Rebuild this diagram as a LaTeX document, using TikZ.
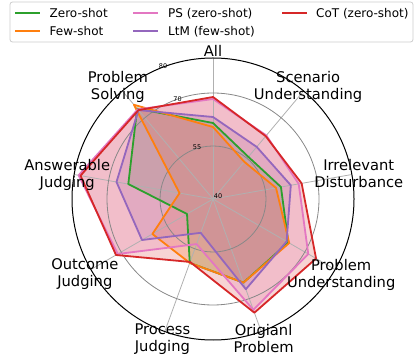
\documentclass[tikz,border=0pt]{standalone}
\usepackage{fontspec}
\setmainfont{DejaVu Sans}
\definecolor{cgreen}{HTML}{2CA02C}
\definecolor{corange}{HTML}{FF7F0E}
\definecolor{cpink}{HTML}{E377C2}
\definecolor{cpurple}{HTML}{9467BD}
\definecolor{cred}{HTML}{D62728}
\definecolor{spokegray}{HTML}{B0B0B0}
\definecolor{ringgray}{HTML}{888888}
\definecolor{legedge}{HTML}{CCCCCC}
\begin{document}
\begin{tikzpicture}[x=1pt,y=1pt,
  series/.style={line width=1.8pt, line join=round},
  area/.style={fill opacity=0.2},
  axlabel/.style={font=\fontsize{14.7}{17}\selectfont, align=center, inner sep=0pt},
  ticklabel/.style={font=\fontsize{6.5}{7}\selectfont, inner sep=0pt},
  legtext/.style={font=\fontsize{12}{14}\selectfont, anchor=base west, inner sep=0pt},
  legline/.style={line width=1.8pt}]
\useasboundingbox (0,0) rectangle (414,358);
\coordinate (C) at (213,159);
\begin{scope}[shift={(C)}]
  % fills
  \fill[cgreen, area] (90:76) -- (50:55) -- (10:69) -- (-30:87) -- (-70:89) -- (-110:68) -- (-150:30) -- (170:86) -- (130:118) -- cycle;
  \fill[corange, area] (90:72) -- (50:48.6) -- (10:64) -- (-30:88) -- (-70:89) -- (-110:68) -- (-150:70) -- (170:34) -- (130:123) -- cycle;
  \fill[cpink, area] (90:100) -- (50:83) -- (10:87) -- (-30:110) -- (-70:118) -- (-110:48) -- (-150:110) -- (170:136.5) -- (130:117) -- cycle;
  \fill[cpurple, area] (90:82) -- (50:68) -- (10:79) -- (-30:85) -- (-70:96) -- (-110:36) -- (-150:82) -- (170:98) -- (130:116) -- cycle;
  \fill[cred, area] (90:102) -- (50:82) -- (10:90) -- (-30:119) -- (-70:121) -- (-110:67) -- (-150:112) -- (170:134.5) -- (130:116) -- cycle;
  % grid
  \foreach \a in {90,50,...,-230} \draw[spokegray, line width=0.8pt] (0,0) -- (\a:141);
  \draw[ringgray, line width=0.8pt] (0,0) circle (53);
  \draw[ringgray, line width=0.8pt] (0,0) circle (106);
  % lines
  \draw[series, cgreen] (90:76) -- (50:55) -- (10:69) -- (-30:87) -- (-70:89) -- (-110:68) -- (-150:30) -- (170:86) -- (130:118) -- cycle;
  \draw[series, corange] (90:72) -- (50:48.6) -- (10:64) -- (-30:88) -- (-70:89) -- (-110:68) -- (-150:70) -- (170:34) -- (130:123) -- cycle;
  \draw[series, cpink] (90:100) -- (50:83) -- (10:87) -- (-30:110) -- (-70:118) -- (-110:48) -- (-150:110) -- (170:136.5) -- (130:117) -- cycle;
  \draw[series, cpurple] (90:82) -- (50:68) -- (10:79) -- (-30:85) -- (-70:96) -- (-110:36) -- (-150:82) -- (170:98) -- (130:116) -- cycle;
  \draw[series, cred] (90:102) -- (50:82) -- (10:90) -- (-30:119) -- (-70:121) -- (-110:67) -- (-150:112) -- (170:134.5) -- (130:116) -- cycle;
  % outer spine
  \draw[black, line width=1pt] (0,0) circle (141);
  % axis labels
  \node[axlabel] (lAll) at (90:148) {All};
  \node[axlabel, yshift=-1.5pt] (lSU) at (50:148) {Scenario\\Understanding};
  \node[axlabel] (lID) at (10:148) {Irrelevant\\Disturbance};
  \node[axlabel, yshift=-1.5pt] (lPU) at (-30:148) {Problem\\Understanding};
  \node[axlabel] (lOP) at (-70:148) {Origianl\\Problem};
  \node[axlabel, yshift=-1.5pt] (lPJ) at (-110:148) {Process\\Judging};
  \node[axlabel, yshift=-1.5pt] (lOJ) at (-150:148) {Outcome\\Judging};
  \node[axlabel, yshift=-1.5pt] (lAJ) at (170:148) {Answerable\\Judging};
  \node[axlabel, yshift=-1.5pt] (lPS) at (130:148) {Problem\\Solving};
\end{scope}
% radial tick labels
\node[ticklabel] (t80) at (163,292) {80};
\node[ticklabel] (t70) at (177.5,259) {70};
\node[ticklabel] (t55) at (197,211) {55};
\node[ticklabel] (t40) at (218,161.5) {40};
% legend
\draw[legedge, line width=0.8pt, fill=white, fill opacity=0.8, rounded corners=2.5pt] (10,316) rectangle (413,356);
\draw[legline, cgreen] (15,345.3) -- (40,345.3);
\node[legtext] (gZ) at (49.5,340.9) {Zero-shot};
\draw[legline, corange] (15,327.3) -- (40,327.3);
\node[legtext] (gF) at (49.5,322.9) {Few-shot};
\draw[legline, cpink] (133,345.3) -- (158,345.3);
\node[legtext] (gP) at (168,340.9) {PS (zero-shot)};
\draw[legline, cpurple] (133,327.3) -- (158,327.3);
\node[legtext] (gL) at (168,322.9) {LtM (few-shot)};
\draw[legline, cred] (282,345.3) -- (307,345.3);
\node[legtext] (gC) at (316,340.9) {CoT (zero-shot)};
\end{tikzpicture}
\end{document}
